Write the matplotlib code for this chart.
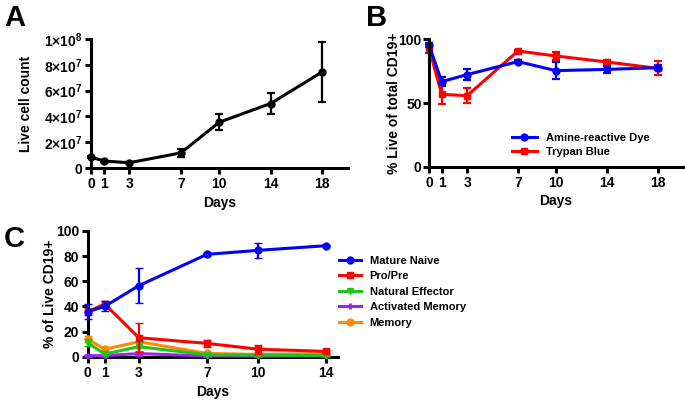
import matplotlib
matplotlib.use('Agg')
import matplotlib.pyplot as plt
from matplotlib.lines import Line2D

plt.rcParams['font.family'] = ['Liberation Sans', 'DejaVu Sans']
plt.rcParams['font.weight'] = 'bold'
plt.rcParams['mathtext.fontset'] = 'custom'
plt.rcParams['mathtext.rm'] = 'Liberation Sans:bold'
plt.rcParams['mathtext.bf'] = 'Liberation Sans:bold'
plt.rcParams['mathtext.default'] = 'bf'

# ---------------- data ----------------
days_ab = [0, 1, 3, 7, 10, 14, 18]
days_c = [0, 1, 3, 7, 10, 14]

live_count = [8.5e6, 5.4e6, 4.1e6, 11.7e6, 35.5e6, 50.0e6, 74.4e6]
live_count_err = [0.8e6, 0.5e6, 0.5e6, 3.0e6, 6.0e6, 8.5e6, 23.5e6]
a_yticks = [0, 2e7, 4e7, 6e7, 8e7, 1e8]
a_yticklabels = ['0', '2×10$^{7}$', '4×10$^{7}$', '6×10$^{7}$', '8×10$^{7}$', '1×10$^{8}$']

amine = [95.5, 66.8, 72.3, 82.5, 75.4, 76.4, 77.7]
amine_err = [1.5, 3.5, 4.5, 1.0, 6.5, 3.0, 2.0]
trypan = [93.0, 56.8, 55.8, 90.8, 86.9, 82.2, 77.2]
trypan_err = [3.5, 7.5, 6.0, 1.0, 3.0, 1.5, 5.5]

mature_naive = [35.8, 40.0, 56.5, 81.4, 84.6, 88.3]
mature_naive_err = [5.8, 4.0, 14.0, 1.0, 6.0, 0.5]
pro_pre = [35.8, 41.9, 15.1, 10.6, 6.0, 4.2]
pro_pre_err = [3.0, 2.5, 11.4, 2.8, 3.5, 1.0]
natural_effector = [11.2, 2.0, 8.0, 1.5, 1.3, 1.0]
natural_effector_err = [2.5, 0.5, 4.0, 0.5, 0.5, 0.3]
activated_memory = [0.8, 0.8, 2.5, 0.5, 0.5, 0.5]
activated_memory_err = [0.3, 0.3, 1.0, 0.2, 0.2, 0.2]
memory = [14.0, 5.9, 11.9, 2.6, 1.8, 2.5]
memory_err = [2.5, 1.5, 5.0, 0.8, 0.5, 0.5]

# ---------------- style ----------------
FS = 10
LW = 2.2
SPINE = 2.2


def style_axis(ax, xticks, xlim, ylim, yticks, ypad=1.5):
    for s in ['top', 'right']:
        ax.spines[s].set_visible(False)
    for s in ['left', 'bottom']:
        ax.spines[s].set_linewidth(SPINE)
    ax.set_xlim(*xlim)
    ax.set_ylim(*ylim)
    ax.set_xticks(xticks)
    ax.set_yticks(yticks)
    ax.tick_params(direction='out', length=4.5, width=SPINE, labelsize=FS, pad=2)
    ax.tick_params(axis='y', pad=ypad)
    for lab in ax.get_xticklabels() + ax.get_yticklabels():
        lab.set_fontweight('bold')


fig = plt.figure(figsize=(6.85, 4.0), dpi=100)

ekw = dict(elinewidth=1.6, capsize=3, capthick=1.6, lw=LW, clip_on=False)

# Panel A
axA = fig.add_axes([0.1328, 0.58, 0.3748, 0.3225])
axA.errorbar(days_ab, live_count, yerr=live_count_err, color='black', marker='o', ms=5, **ekw)
style_axis(axA, days_ab, (0, 20), (0, 1e8), a_yticks)
axA.set_yticklabels(a_yticklabels)
axA.set_ylabel('Live cell count', fontsize=FS, fontweight='bold')
axA.yaxis.set_label_coords(-0.226, 0.5)
axA.set_xlabel('Days', fontsize=FS, fontweight='bold')
axA.xaxis.set_label_coords(0.5, -0.215)

# Panel B
axB = fig.add_axes([0.6263, 0.583, 0.3708, 0.3188])
axB.errorbar(days_ab, trypan, yerr=trypan_err, color='#ff0000', marker='s', ms=5, **ekw)
axB.errorbar(days_ab, amine, yerr=amine_err, color='#0000ff', marker='o', ms=5, **ekw)
style_axis(axB, days_ab, (0, 20), (0, 100), [0, 50, 100], ypad=0.8)
axB.set_ylabel('% Live of total CD19+', fontsize=FS, fontweight='bold')
axB.yaxis.set_label_coords(-0.112, 0.5)
axB.set_xlabel('Days', fontsize=FS, fontweight='bold')
axB.xaxis.set_label_coords(0.5, -0.215)
hB = [Line2D([], [], color='#0000ff', marker='o', ms=5, lw=LW),
      Line2D([], [], color='#ff0000', marker='s', ms=5, lw=LW)]
axB.legend(hB, ['Amine-reactive Dye', 'Trypan Blue'], loc='upper left',
           bbox_to_anchor=(506 / 685, 1 - 127 / 400), bbox_transform=fig.transFigure,
           frameon=False, prop={'size': 8, 'weight': 'bold'}, handlelength=2.3,
           handletextpad=0.8, labelspacing=0.4, borderpad=0)

# Panel C
axC = fig.add_axes([0.128, 0.10825, 0.3654, 0.31425])
series_c = [
    ('Mature Naive', mature_naive, mature_naive_err, '#0000ff', 'o', 5, 1),
    ('Pro/Pre', pro_pre, pro_pre_err, '#ff0000', 's', 5, 1),
    ('Natural Effector', natural_effector, natural_effector_err, '#1ec41e', 'v', 5, 1),
    ('Activated Memory', activated_memory, activated_memory_err, '#a020f0', '+', 5, 2),
    ('Memory', memory, memory_err, '#ff8c00', 'o', 5, 1),
]
for i, (name, vals, errs, col, mk, ms, mew) in reversed(list(enumerate(series_c))):
    axC.errorbar(days_c, vals, yerr=errs, color=col, marker=mk, ms=ms, mew=mew, zorder=3 + (5 - i), **ekw)
style_axis(axC, days_c, (0, 14.7), (0, 100), [0, 20, 40, 60, 80, 100])
axC.set_ylabel('% of Live CD19+', fontsize=FS, fontweight='bold')
axC.yaxis.set_label_coords(-0.123, 0.5)
axC.set_xlabel('Days', fontsize=FS, fontweight='bold')
axC.xaxis.set_label_coords(0.5, -0.225)
hC = [Line2D([], [], color=c, marker=m, ms=ms, mew=mew, lw=LW) for (_, _, _, c, m, ms, mew) in series_c]
axC.legend(hC, [s[0] for s in series_c], loc='upper left',
           bbox_to_anchor=(333 / 685, 1 - 250 / 400), bbox_transform=fig.transFigure,
           frameon=False, prop={'size': 8, 'weight': 'bold'}, handlelength=2.0,
           handletextpad=0.8, labelspacing=0.5, borderpad=0)

# Panel letters
fig.text(4 / 685, 1 - 4 / 400, 'A', fontsize=21, fontweight='bold', va='top', ha='left')
fig.text(366 / 685, 1 - 4 / 400, 'B', fontsize=21, fontweight='bold', va='top', ha='left')
fig.text(4 / 685, 1 - 225 / 400, 'C', fontsize=21, fontweight='bold', va='top', ha='left')

fig.savefig('out.png', dpi=100)
